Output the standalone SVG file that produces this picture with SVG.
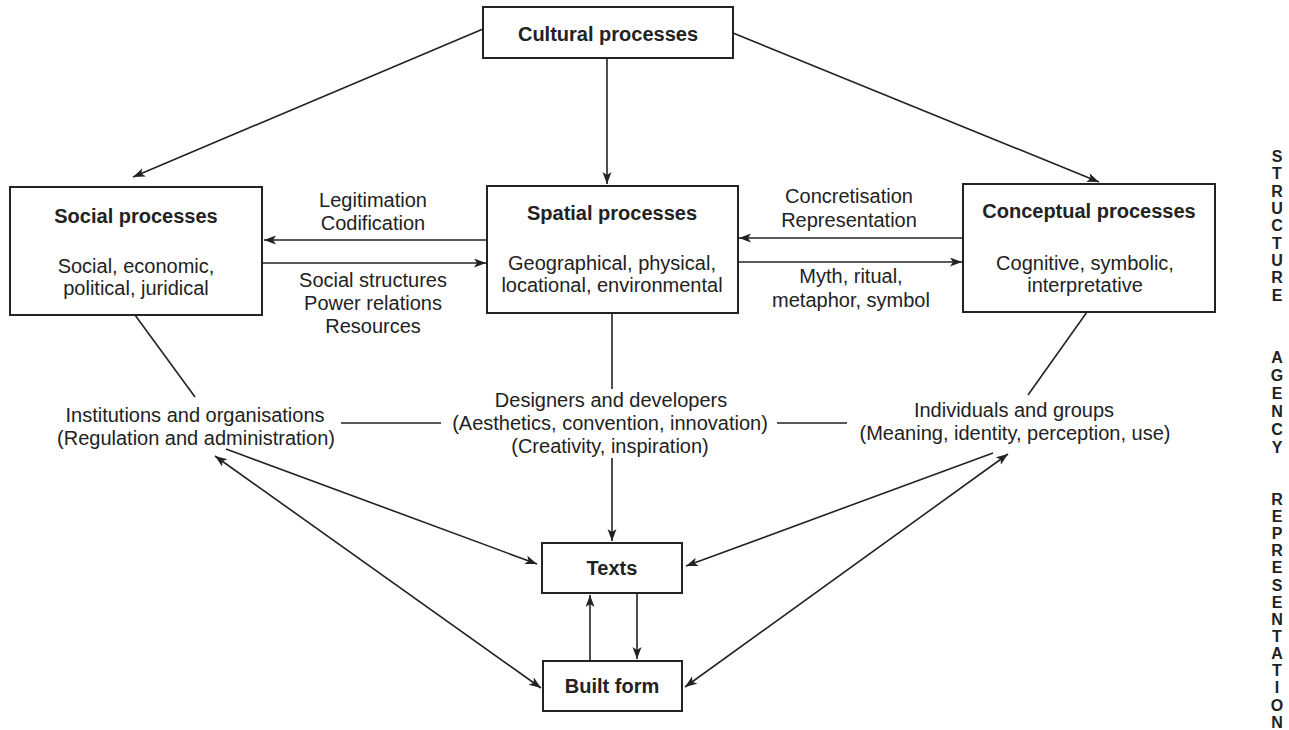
<svg xmlns="http://www.w3.org/2000/svg" width="1289" height="730" viewBox="0 0 1289 730">
<style>
  .box { fill: #ffffff; stroke: #222222; stroke-width: 2; }
  .title { font-family: "Liberation Sans", Arial, sans-serif; font-size: 20px; font-weight: bold; fill: #222222; text-anchor: middle; }
  .body { font-family: "Liberation Sans", Arial, sans-serif; font-size: 20px; fill: #222222; text-anchor: middle; }
  .side { font-family: "Liberation Sans", Arial, sans-serif; font-size: 16px; font-weight: bold; fill: #222222; text-anchor: middle; }
  .conn line, .conn path { stroke: #222222; stroke-width: 1.6; fill: none; }
  .arr { marker-end: url(#ah); }
  .dbl { marker-start: url(#ah); marker-end: url(#ah); }
</style>
<defs>
  <marker id="ah" markerUnits="userSpaceOnUse" markerWidth="14" markerHeight="10" refX="12" refY="4.5" orient="auto-start-reverse">
    <path d="M0,0 L12,4.5 L0,9 L3,4.5 z" fill="#222222"/>
  </marker>
</defs>
<rect width="1289" height="730" fill="#ffffff"/>

<g class="conn" id="connectors">
  <line class="arr" x1="483" y1="29" x2="133" y2="177"/>
  <line class="arr" x1="607" y1="58" x2="607" y2="184"/>
  <line class="arr" x1="733" y1="33" x2="1099" y2="182"/>
  <line class="arr" x1="487" y1="240" x2="264" y2="240"/>
  <line class="arr" x1="262" y1="263" x2="486" y2="263"/>
  <line class="arr" x1="963" y1="238" x2="739" y2="238"/>
  <line class="arr" x1="738" y1="262" x2="962" y2="262"/>
  <line x1="135" y1="315" x2="195" y2="397"/>
  <line x1="612" y1="313" x2="612" y2="389"/>
  <line x1="1087" y1="312" x2="1028" y2="395"/>
  <line x1="341" y1="423" x2="441" y2="423"/>
  <line x1="777" y1="423" x2="847" y2="423"/>
  <line class="arr" x1="612" y1="458" x2="612" y2="541"/>
  <line class="arr" x1="226" y1="449" x2="537" y2="564"/>
  <line class="dbl" x1="215" y1="456" x2="541" y2="688"/>
  <line class="arr" x1="993" y1="453" x2="686" y2="566"/>
  <line class="dbl" x1="1008" y1="454" x2="685" y2="687"/>
  <line class="arr" x1="590" y1="660" x2="590" y2="595"/>
  <line class="arr" x1="637" y1="593" x2="637" y2="659"/>
</g>

<g id="cultural">
  <rect class="box" x="483" y="7" width="250" height="51"/>
  <text class="title" x="608" y="41">Cultural processes</text>
</g>
<g id="social">
  <rect class="box" x="10" y="187" width="252" height="128"/>
  <text class="title" x="136" y="223">Social processes</text>
  <text class="body" x="136" y="273">Social, economic,</text>
  <text class="body" x="136" y="295">political, juridical</text>
</g>
<g id="spatial">
  <rect class="box" x="487" y="186" width="251" height="127"/>
  <text class="title" x="612" y="220">Spatial processes</text>
  <text class="body" x="612" y="270">Geographical, physical,</text>
  <text class="body" x="612" y="292">locational, environmental</text>
</g>
<g id="conceptual">
  <rect class="box" x="963" y="184" width="252" height="128"/>
  <text class="title" x="1089" y="218">Conceptual processes</text>
  <text class="body" x="1085" y="270">Cognitive, symbolic,</text>
  <text class="body" x="1085" y="292">interpretative</text>
</g>
<g id="texts">
  <rect class="box" x="542" y="543" width="140" height="50"/>
  <text class="title" x="612" y="575">Texts</text>
</g>
<g id="builtform">
  <rect class="box" x="543" y="661" width="139" height="50"/>
  <text class="title" x="612" y="693">Built form</text>
</g>

<g id="label-legitimation">
  <text class="body" x="373" y="207">Legitimation</text>
  <text class="body" x="373" y="230">Codification</text>
</g>
<g id="label-social-structures">
  <text class="body" x="373" y="287">Social structures</text>
  <text class="body" x="373" y="310">Power relations</text>
  <text class="body" x="373" y="333">Resources</text>
</g>
<g id="label-concretisation">
  <text class="body" x="849" y="203">Concretisation</text>
  <text class="body" x="849" y="227">Representation</text>
</g>
<g id="label-myth">
  <text class="body" x="851" y="283">Myth, ritual,</text>
  <text class="body" x="851" y="307">metaphor, symbol</text>
</g>

<g id="institutions">
  <text class="body" x="195" y="422">Institutions and organisations</text>
  <text class="body" x="196" y="445">(Regulation and administration)</text>
</g>
<g id="designers">
  <text class="body" x="611" y="407">Designers and developers</text>
  <text class="body" x="610" y="430">(Aesthetics, convention, innovation)</text>
  <text class="body" x="610" y="453">(Creativity, inspiration)</text>
</g>
<g id="individuals">
  <text class="body" x="1014" y="417">Individuals and groups</text>
  <text class="body" x="1015" y="440">(Meaning, identity, perception, use)</text>
</g>

<g id="side-labels">
  <text class="side" x="1277"><tspan x="1277" y="162">S</tspan><tspan x="1277" y="179">T</tspan><tspan x="1277" y="197">R</tspan><tspan x="1277" y="214">U</tspan><tspan x="1277" y="231">C</tspan><tspan x="1277" y="249">T</tspan><tspan x="1277" y="266">U</tspan><tspan x="1277" y="283">R</tspan><tspan x="1277" y="301">E</tspan></text>
  <text class="side" x="1277"><tspan x="1277" y="363">A</tspan><tspan x="1277" y="381">G</tspan><tspan x="1277" y="399">E</tspan><tspan x="1277" y="417">N</tspan><tspan x="1277" y="435">C</tspan><tspan x="1277" y="453">Y</tspan></text>
  <text class="side" x="1277"><tspan x="1277" y="505">R</tspan><tspan x="1277" y="522">E</tspan><tspan x="1277" y="539">P</tspan><tspan x="1277" y="556">R</tspan><tspan x="1277" y="573">E</tspan><tspan x="1277" y="591">S</tspan><tspan x="1277" y="608">E</tspan><tspan x="1277" y="625">N</tspan><tspan x="1277" y="642">T</tspan><tspan x="1277" y="659">A</tspan><tspan x="1277" y="676">T</tspan><tspan x="1277" y="693">I</tspan><tspan x="1277" y="711">O</tspan><tspan x="1277" y="728">N</tspan></text>
</g>
</svg>
